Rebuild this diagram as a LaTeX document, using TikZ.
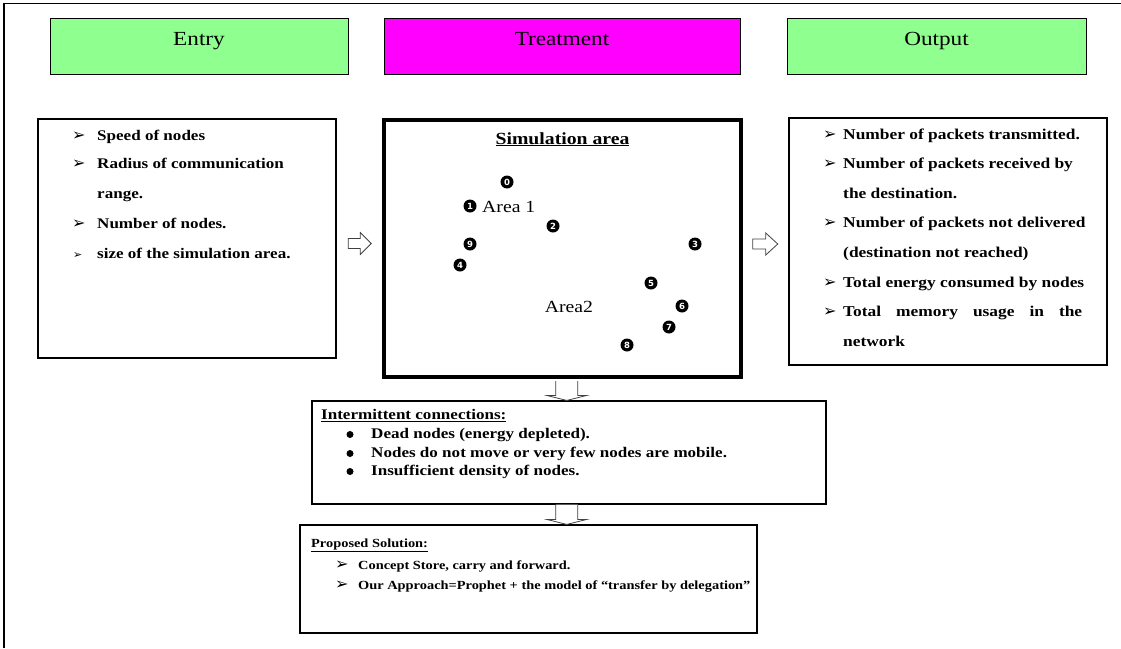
\documentclass[tikz,border=0pt]{standalone}
\usepackage{fontspec}
\setmainfont[FakeStretch=1.16]{Liberation Serif}
\newfontfamily\djs{DejaVu Sans}
\usetikzlibrary{calc}
\definecolor{hgreen}{RGB}{143,255,143}
\definecolor{hmag}{RGB}{255,0,255}
\begin{document}
\begin{tikzpicture}[x=1pt,y=-1pt,
 hdrbox/.style={draw, line width=0.9pt, inner sep=0},
 hdrtxt/.style={anchor=base, inner sep=0, font=\fontsize{20}{20}\selectfont},
 panel/.style={draw, line width=1.1pt, inner sep=0},
 txt/.style={anchor=base west, inner sep=0, font=\bfseries\fontsize{14.7}{14.7}\selectfont},
 otxt/.style={txt, font=\bfseries\fontsize{15}{15}\selectfont},
 ptxt/.style={txt, font=\bfseries\fontsize{12.4}{12.4}\selectfont},
 bul/.style={anchor=base west, inner sep=0, font=\djs\bfseries\fontsize{16}{16}\selectfont},
 smallbul/.style={bul, font=\djs\bfseries\fontsize{11}{11}\selectfont},
 dotbul/.style={circle, fill=black, inner sep=0, minimum size=7pt},
 num/.style={circle, fill=black, text=white, inner sep=0, minimum size=13pt, font=\djs\bfseries\fontsize{8.5}{8.5}\selectfont},
 areatxt/.style={inner sep=0, font=\fontsize{17}{17}\selectfont},
 barrow/.style={draw=black!75, fill=white, line width=0.8pt, line join=miter}]
\useasboundingbox (0,0) rectangle (1121,648);
% outer frame
\draw[line width=1.5pt] (4,648) -- (4,3.5) -- (1121,3.5);

% header boxes
\node[hdrbox, fill=hgreen, minimum width=298pt, minimum height=56pt] (hentry) at (199,46) {};
\node[hdrbox, fill=hmag, minimum width=356pt, minimum height=56pt] (htreat) at (562,46) {};
\node[hdrbox, fill=hgreen, minimum width=299pt, minimum height=56pt] (hout) at (936.5,46) {};
\node[hdrtxt] (tentry) at (199,45) {Entry};
\node[hdrtxt] (ttreat) at (562,45) {Treatment};
\node[hdrtxt] (tout) at (936.5,45) {Output};

% entry panel
\node[panel, minimum width=298pt, minimum height=239pt] (entry) at (187,238.5) {};
\node[bul] (eb1) at (72,140) {➢};
\node[txt] (e1) at (97,140) {Speed of nodes};
\node[bul] (eb2) at (72,168.5) {➢};
\node[txt] (e2) at (97,168.5) {Radius of communication};
\node[txt] (e3) at (97,198) {range.};
\node[bul] (eb4) at (72,228) {➢};
\node[txt] (e4) at (97,228) {Number of nodes.};
\node[smallbul] (eb5) at (73,258.5) {➢};
\node[txt] (e5) at (97,258.5) {size of the simulation area.};

% simulation panel
\node[draw, line width=4pt, inner sep=0, minimum width=357pt, minimum height=257pt] (sim) at (562.5,248.5) {};
\node[anchor=base, inner sep=0, font=\bfseries\fontsize{17}{17}\selectfont] (simtitle) at (562.5,144) {\underline{Simulation area}};
\node[num] (n0) at (507,182) {0};
\node[num] (n1) at (470,206) {1};
\node[areatxt, anchor=base west] (area1) at (482,212) {Area 1};
\node[num] (n2) at (553,226) {2};
\node[num] (n9) at (470,244) {9};
\node[num] (n4) at (460,265) {4};
\node[num] (n3) at (695,244) {3};
\node[num] (n5) at (651,283) {5};
\node[num] (n6) at (682,306) {6};
\node[num] (n7) at (669,327) {7};
\node[num] (n8) at (627,345) {8};
\node[areatxt, anchor=base] (area2) at (569,312) {Area2};

% output panel
\node[panel, minimum width=318pt, minimum height=247pt] (out) at (948,241.5) {};
\node[bul] (ob0) at (823,139) {➢};
\node[otxt] (o0) at (843,139) {Number of packets transmitted.};
\node[bul] (ob1) at (823,168.6) {➢};
\node[otxt] (o1) at (843,168.6) {Number of packets received by};
\node[otxt] (o2) at (843,198.2) {the destination.};
\node[bul] (ob3) at (823,227.8) {➢};
\node[otxt] (o3) at (843,227.8) {Number of packets not delivered};
\node[otxt] (o4) at (843,257.4) {(destination not reached)};
\node[bul] (ob5) at (823,287) {➢};
\node[otxt] (o5) at (843,287) {Total energy consumed by nodes};
\node[bul] (ob6) at (823,316.6) {➢};
\node[otxt] (o6) at (843,316.6) {\makebox[239pt][s]{Total memory usage in the}};
\node[otxt] (o7) at (843,346.2) {network};

% intermittent panel
\node[panel, minimum width=514pt, minimum height=103pt] (inter) at (569,452.5) {};
\node[txt] (ititle) at (321,419.6) {\underline{Intermittent connections:}};
\node[dotbul] (ib1) at (350,434.5) {};
\node[txt] (i1) at (371,438.6) {Dead nodes (energy depleted).};
\node[dotbul] (ib2) at (350,453.5) {};
\node[txt] (i2) at (371,457.6) {Nodes do not move or very few nodes are mobile.};
\node[dotbul] (ib3) at (350,471.5) {};
\node[txt] (i3) at (371,475.5) {Insufficient density of nodes.};

% proposed panel
\node[panel, minimum width=457pt, minimum height=108pt] (prop) at (528.5,579) {};
\node[ptxt] (ptitle) at (311,547.5) {\underline{Proposed Solution:}};
\node[bul] (pb1) at (335,569) {➢};
\node[ptxt] (p1) at (358,569) {Concept Store, carry and forward.};
\node[bul] (pb2) at (335,589) {➢};
\node[ptxt] (p2) at (358,589) {Our Approach=Prophet + the model of ``transfer by delegation''};

% block arrows
\coordinate (ra1) at ($(entry.east)!0.5!(sim.west)$);
\draw[barrow] ($(ra1)+(-11,-5)$) -- ($(ra1)+(1,-5)$) -- ($(ra1)+(1,-11)$) -- ($(ra1)+(12,0)$)
  -- ($(ra1)+(1,11)$) -- ($(ra1)+(1,5)$) -- ($(ra1)+(-11,5)$) -- cycle;
\coordinate (ra2) at ($(sim.east)!0.5!(out.west)$);
\draw[barrow] ($(ra2)+(-13,-6)$) -- ($(ra2)+(0,-6)$) -- ($(ra2)+(0,-12)$) -- ($(ra2)+(12,-1)$)
  -- ($(ra2)+(0,10)$) -- ($(ra2)+(0,4)$) -- ($(ra2)+(-13,4)$) -- cycle;
\coordinate (da1) at ($(sim.south)!0.5!(inter.north)+(1,0)$);
\draw[barrow] ($(da1 |- sim.south)+(-11,2)$) -- ($(da1 |- inter.north)+(-11,-5)$) -- ($(da1 |- inter.north)+(-20,-5)$)
  -- (da1 |- inter.north) -- ($(da1 |- inter.north)+(20,-5)$) -- ($(da1 |- inter.north)+(11,-5)$) -- ($(da1 |- sim.south)+(11,2)$);
\draw[barrow] ($(da1 |- inter.south)+(-11,0)$) -- ($(da1 |- prop.north)+(-11,-5)$) -- ($(da1 |- prop.north)+(-20,-5)$)
  -- (da1 |- prop.north) -- ($(da1 |- prop.north)+(20,-5)$) -- ($(da1 |- prop.north)+(11,-5)$) -- ($(da1 |- inter.south)+(11,0)$);
\end{tikzpicture}
\end{document}
